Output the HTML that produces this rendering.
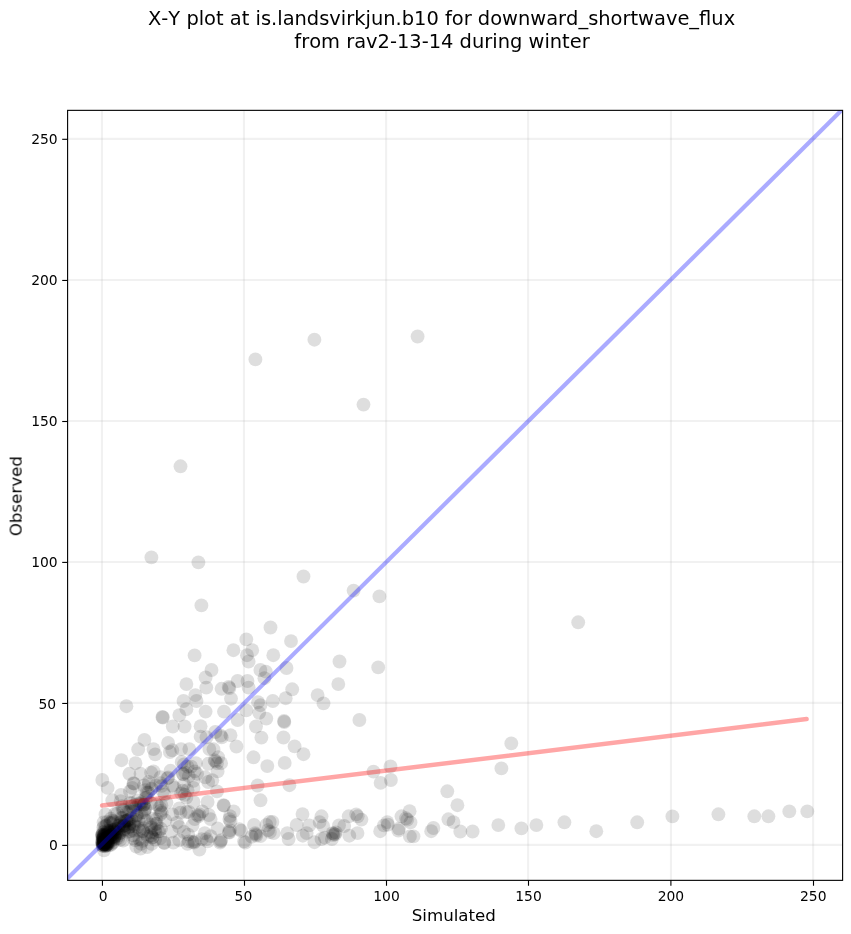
<!DOCTYPE html>
<html><head><meta charset="utf-8"><title>X-Y plot</title>
<style>
html,body{margin:0;padding:0;background:#fff;}
svg{display:block;}
text{font-family:"DejaVu Sans","Liberation Sans",sans-serif;fill:#000;font-kerning:none;}
.t{font-size:13.89px;}
.l{font-size:16.67px;}
.h{font-size:19.44px;}
</style></head><body>
<svg width="851" height="934" viewBox="0 0 851 934">
<rect width="851" height="934" fill="#fff"/>
<defs><clipPath id="c"><rect x="67.6" y="110.35" width="775.0" height="770.0"/></clipPath></defs>

<g stroke="#b0b0b0" stroke-opacity="0.18" stroke-width="2.08" clip-path="url(#c)">
<line x1="102.0" y1="110.35" x2="102.0" y2="880.35"/>
<line x1="67.6" y1="844.9" x2="842.6" y2="844.9"/>
<line x1="244.0" y1="110.35" x2="244.0" y2="880.35"/>
<line x1="67.6" y1="702.9" x2="842.6" y2="702.9"/>
<line x1="386.1" y1="110.35" x2="386.1" y2="880.35"/>
<line x1="67.6" y1="562.0" x2="842.6" y2="562.0"/>
<line x1="528.1" y1="110.35" x2="528.1" y2="880.35"/>
<line x1="67.6" y1="421.0" x2="842.6" y2="421.0"/>
<line x1="671.0" y1="110.35" x2="671.0" y2="880.35"/>
<line x1="67.6" y1="280.0" x2="842.6" y2="280.0"/>
<line x1="813.1" y1="110.35" x2="813.1" y2="880.35"/>
<line x1="67.6" y1="138.9" x2="842.6" y2="138.9"/>
</g>
<g fill="#000" fill-opacity="0.13" clip-path="url(#c)">
<circle cx="314.4" cy="339.7" r="6.94"/>
<circle cx="255.4" cy="359.4" r="6.94"/>
<circle cx="180.5" cy="466.3" r="6.94"/>
<circle cx="151.4" cy="557.4" r="6.94"/>
<circle cx="198.4" cy="562.4" r="6.94"/>
<circle cx="417.6" cy="336.5" r="6.94"/>
<circle cx="363.5" cy="404.6" r="6.94"/>
<circle cx="201.4" cy="605.4" r="6.94"/>
<circle cx="270.5" cy="627.5" r="6.94"/>
<circle cx="246.3" cy="639.4" r="6.94"/>
<circle cx="291.0" cy="641.1" r="6.94"/>
<circle cx="233.4" cy="650.2" r="6.94"/>
<circle cx="252.2" cy="650.2" r="6.94"/>
<circle cx="247.0" cy="655.2" r="6.94"/>
<circle cx="273.3" cy="655.2" r="6.94"/>
<circle cx="194.6" cy="655.4" r="6.94"/>
<circle cx="248.6" cy="661.5" r="6.94"/>
<circle cx="211.5" cy="670.0" r="6.94"/>
<circle cx="260.4" cy="670.0" r="6.94"/>
<circle cx="265.8" cy="671.6" r="6.94"/>
<circle cx="286.5" cy="668.0" r="6.94"/>
<circle cx="205.6" cy="677.5" r="6.94"/>
<circle cx="264.4" cy="678.2" r="6.94"/>
<circle cx="237.6" cy="681.0" r="6.94"/>
<circle cx="247.5" cy="681.0" r="6.94"/>
<circle cx="186.4" cy="684.1" r="6.94"/>
<circle cx="206.3" cy="687.6" r="6.94"/>
<circle cx="221.6" cy="688.8" r="6.94"/>
<circle cx="228.7" cy="686.9" r="6.94"/>
<circle cx="229.4" cy="688.1" r="6.94"/>
<circle cx="248.6" cy="687.6" r="6.94"/>
<circle cx="292.2" cy="689.3" r="6.94"/>
<circle cx="195.3" cy="695.1" r="6.94"/>
<circle cx="231.0" cy="698.7" r="6.94"/>
<circle cx="183.5" cy="701.0" r="6.94"/>
<circle cx="196.5" cy="701.0" r="6.94"/>
<circle cx="285.7" cy="698.2" r="6.94"/>
<circle cx="272.8" cy="701.0" r="6.94"/>
<circle cx="258.0" cy="702.2" r="6.94"/>
<circle cx="260.4" cy="705.2" r="6.94"/>
<circle cx="126.4" cy="706.2" r="6.94"/>
<circle cx="186.4" cy="709.2" r="6.94"/>
<circle cx="205.6" cy="711.6" r="6.94"/>
<circle cx="224.0" cy="711.6" r="6.94"/>
<circle cx="246.3" cy="710.4" r="6.94"/>
<circle cx="179.3" cy="715.1" r="6.94"/>
<circle cx="162.4" cy="717.0" r="6.94"/>
<circle cx="162.9" cy="717.5" r="6.94"/>
<circle cx="259.2" cy="712.8" r="6.94"/>
<circle cx="266.3" cy="718.6" r="6.94"/>
<circle cx="237.6" cy="720.0" r="6.94"/>
<circle cx="303.5" cy="576.5" r="6.94"/>
<circle cx="353.6" cy="590.6" r="6.94"/>
<circle cx="379.4" cy="596.4" r="6.94"/>
<circle cx="339.5" cy="661.5" r="6.94"/>
<circle cx="378.2" cy="667.4" r="6.94"/>
<circle cx="338.3" cy="684.1" r="6.94"/>
<circle cx="317.6" cy="695.1" r="6.94"/>
<circle cx="323.5" cy="703.4" r="6.94"/>
<circle cx="359.4" cy="720.0" r="6.94"/>
<circle cx="284.0" cy="721.0" r="6.94"/>
<circle cx="284.3" cy="722.0" r="6.94"/>
<circle cx="578.2" cy="622.3" r="6.94"/>
<circle cx="511.3" cy="743.4" r="6.94"/>
<circle cx="501.4" cy="768.4" r="6.94"/>
<circle cx="498.3" cy="825.1" r="6.94"/>
<circle cx="521.4" cy="828.4" r="6.94"/>
<circle cx="536.4" cy="825.1" r="6.94"/>
<circle cx="564.4" cy="822.3" r="6.94"/>
<circle cx="596.3" cy="831.2" r="6.94"/>
<circle cx="637.2" cy="822.3" r="6.94"/>
<circle cx="672.4" cy="816.4" r="6.94"/>
<circle cx="718.4" cy="814.3" r="6.94"/>
<circle cx="754.3" cy="816.3" r="6.94"/>
<circle cx="768.4" cy="816.3" r="6.94"/>
<circle cx="789.3" cy="811.4" r="6.94"/>
<circle cx="807.3" cy="811.4" r="6.94"/>
<circle cx="283.5" cy="737.5" r="6.94"/>
<circle cx="294.6" cy="746.4" r="6.94"/>
<circle cx="303.5" cy="754.2" r="6.94"/>
<circle cx="284.7" cy="762.9" r="6.94"/>
<circle cx="289.4" cy="785.2" r="6.94"/>
<circle cx="373.5" cy="771.6" r="6.94"/>
<circle cx="390.5" cy="766.4" r="6.94"/>
<circle cx="380.6" cy="782.9" r="6.94"/>
<circle cx="390.9" cy="780.0" r="6.94"/>
<circle cx="447.3" cy="791.3" r="6.94"/>
<circle cx="457.4" cy="805.2" r="6.94"/>
<circle cx="302.5" cy="814.1" r="6.94"/>
<circle cx="321.5" cy="816.3" r="6.94"/>
<circle cx="319.6" cy="822.1" r="6.94"/>
<circle cx="296.7" cy="825.0" r="6.94"/>
<circle cx="309.3" cy="825.4" r="6.94"/>
<circle cx="323.1" cy="825.8" r="6.94"/>
<circle cx="287.3" cy="833.1" r="6.94"/>
<circle cx="288.6" cy="839.0" r="6.94"/>
<circle cx="302.8" cy="835.7" r="6.94"/>
<circle cx="306.7" cy="833.1" r="6.94"/>
<circle cx="314.4" cy="842.2" r="6.94"/>
<circle cx="321.5" cy="839.0" r="6.94"/>
<circle cx="324.8" cy="837.7" r="6.94"/>
<circle cx="331.9" cy="839.0" r="6.94"/>
<circle cx="332.5" cy="833.1" r="6.94"/>
<circle cx="333.8" cy="833.8" r="6.94"/>
<circle cx="335.1" cy="834.4" r="6.94"/>
<circle cx="333.2" cy="835.1" r="6.94"/>
<circle cx="335.8" cy="832.5" r="6.94"/>
<circle cx="339.0" cy="825.4" r="6.94"/>
<circle cx="344.2" cy="826.0" r="6.94"/>
<circle cx="348.7" cy="816.3" r="6.94"/>
<circle cx="356.2" cy="814.4" r="6.94"/>
<circle cx="357.7" cy="816.3" r="6.94"/>
<circle cx="361.4" cy="819.6" r="6.94"/>
<circle cx="349.3" cy="835.7" r="6.94"/>
<circle cx="357.5" cy="833.1" r="6.94"/>
<circle cx="273.7" cy="833.1" r="6.94"/>
<circle cx="272.4" cy="822.0" r="6.94"/>
<circle cx="380.2" cy="831.2" r="6.94"/>
<circle cx="384.0" cy="825.4" r="6.94"/>
<circle cx="387.3" cy="822.1" r="6.94"/>
<circle cx="387.9" cy="824.7" r="6.94"/>
<circle cx="398.3" cy="830.5" r="6.94"/>
<circle cx="398.9" cy="828.6" r="6.94"/>
<circle cx="401.5" cy="816.3" r="6.94"/>
<circle cx="409.6" cy="811.2" r="6.94"/>
<circle cx="406.0" cy="818.3" r="6.94"/>
<circle cx="407.3" cy="819.6" r="6.94"/>
<circle cx="410.5" cy="822.4" r="6.94"/>
<circle cx="409.9" cy="836.4" r="6.94"/>
<circle cx="413.5" cy="836.4" r="6.94"/>
<circle cx="431.2" cy="831.2" r="6.94"/>
<circle cx="433.4" cy="828.0" r="6.94"/>
<circle cx="448.4" cy="819.3" r="6.94"/>
<circle cx="453.5" cy="822.1" r="6.94"/>
<circle cx="460.3" cy="831.5" r="6.94"/>
<circle cx="472.6" cy="831.5" r="6.94"/>
<circle cx="200.6" cy="726.2" r="6.94"/>
<circle cx="256.0" cy="726.5" r="6.94"/>
<circle cx="200.6" cy="736.7" r="6.94"/>
<circle cx="206.5" cy="737.3" r="6.94"/>
<circle cx="215.3" cy="732.0" r="6.94"/>
<circle cx="220.8" cy="735.6" r="6.94"/>
<circle cx="221.7" cy="737.3" r="6.94"/>
<circle cx="230.5" cy="735.2" r="6.94"/>
<circle cx="261.4" cy="737.6" r="6.94"/>
<circle cx="236.4" cy="746.5" r="6.94"/>
<circle cx="189.3" cy="749.1" r="6.94"/>
<circle cx="209.4" cy="749.1" r="6.94"/>
<circle cx="213.5" cy="749.3" r="6.94"/>
<circle cx="253.5" cy="757.3" r="6.94"/>
<circle cx="218.2" cy="757.3" r="6.94"/>
<circle cx="215.3" cy="761.4" r="6.94"/>
<circle cx="217.0" cy="763.2" r="6.94"/>
<circle cx="221.1" cy="763.2" r="6.94"/>
<circle cx="214.7" cy="760.2" r="6.94"/>
<circle cx="208.2" cy="763.8" r="6.94"/>
<circle cx="267.3" cy="766.1" r="6.94"/>
<circle cx="217.6" cy="771.4" r="6.94"/>
<circle cx="195.9" cy="763.2" r="6.94"/>
<circle cx="191.2" cy="766.7" r="6.94"/>
<circle cx="194.7" cy="771.4" r="6.94"/>
<circle cx="197.1" cy="773.8" r="6.94"/>
<circle cx="205.3" cy="777.3" r="6.94"/>
<circle cx="212.3" cy="780.2" r="6.94"/>
<circle cx="208.2" cy="782.0" r="6.94"/>
<circle cx="193.5" cy="780.8" r="6.94"/>
<circle cx="257.6" cy="785.5" r="6.94"/>
<circle cx="217.0" cy="791.4" r="6.94"/>
<circle cx="193.5" cy="787.9" r="6.94"/>
<circle cx="260.5" cy="800.3" r="6.94"/>
<circle cx="188.8" cy="776.1" r="6.94"/>
<circle cx="223.5" cy="805.2" r="6.94"/>
<circle cx="223.9" cy="805.6" r="6.94"/>
<circle cx="207.6" cy="802.0" r="6.94"/>
<circle cx="193.5" cy="802.0" r="6.94"/>
<circle cx="233.7" cy="811.4" r="6.94"/>
<circle cx="230.0" cy="816.1" r="6.94"/>
<circle cx="229.4" cy="819.1" r="6.94"/>
<circle cx="230.5" cy="821.4" r="6.94"/>
<circle cx="202.3" cy="811.4" r="6.94"/>
<circle cx="199.4" cy="814.4" r="6.94"/>
<circle cx="198.8" cy="816.1" r="6.94"/>
<circle cx="208.8" cy="815.0" r="6.94"/>
<circle cx="210.6" cy="819.1" r="6.94"/>
<circle cx="194.7" cy="819.1" r="6.94"/>
<circle cx="188.8" cy="812.0" r="6.94"/>
<circle cx="217.6" cy="828.5" r="6.94"/>
<circle cx="254.0" cy="825.0" r="6.94"/>
<circle cx="266.4" cy="825.0" r="6.94"/>
<circle cx="269.7" cy="822.0" r="6.94"/>
<circle cx="230.0" cy="830.2" r="6.94"/>
<circle cx="229.4" cy="832.6" r="6.94"/>
<circle cx="228.8" cy="832.0" r="6.94"/>
<circle cx="239.4" cy="829.1" r="6.94"/>
<circle cx="241.1" cy="830.8" r="6.94"/>
<circle cx="204.7" cy="833.2" r="6.94"/>
<circle cx="210.6" cy="836.1" r="6.94"/>
<circle cx="206.5" cy="839.1" r="6.94"/>
<circle cx="207.6" cy="841.4" r="6.94"/>
<circle cx="220.6" cy="841.4" r="6.94"/>
<circle cx="221.1" cy="840.2" r="6.94"/>
<circle cx="220.0" cy="842.6" r="6.94"/>
<circle cx="245.2" cy="842.6" r="6.94"/>
<circle cx="244.1" cy="841.4" r="6.94"/>
<circle cx="255.2" cy="833.2" r="6.94"/>
<circle cx="256.4" cy="835.5" r="6.94"/>
<circle cx="255.8" cy="834.4" r="6.94"/>
<circle cx="260.5" cy="836.1" r="6.94"/>
<circle cx="251.7" cy="836.7" r="6.94"/>
<circle cx="268.1" cy="830.2" r="6.94"/>
<circle cx="269.9" cy="832.0" r="6.94"/>
<circle cx="194.7" cy="841.4" r="6.94"/>
<circle cx="194.1" cy="842.6" r="6.94"/>
<circle cx="192.4" cy="842.0" r="6.94"/>
<circle cx="199.4" cy="849.6" r="6.94"/>
<circle cx="188.8" cy="841.4" r="6.94"/>
<circle cx="201.8" cy="839.1" r="6.94"/>
<circle cx="172.8" cy="726.5" r="6.94"/>
<circle cx="184.6" cy="726.5" r="6.94"/>
<circle cx="144.4" cy="739.9" r="6.94"/>
<circle cx="138.2" cy="749.3" r="6.94"/>
<circle cx="153.5" cy="749.1" r="6.94"/>
<circle cx="155.2" cy="754.4" r="6.94"/>
<circle cx="168.1" cy="743.0" r="6.94"/>
<circle cx="169.9" cy="752.0" r="6.94"/>
<circle cx="172.3" cy="750.3" r="6.94"/>
<circle cx="181.1" cy="749.1" r="6.94"/>
<circle cx="121.4" cy="760.2" r="6.94"/>
<circle cx="135.5" cy="763.2" r="6.94"/>
<circle cx="129.4" cy="773.8" r="6.94"/>
<circle cx="140.5" cy="773.8" r="6.94"/>
<circle cx="151.1" cy="772.6" r="6.94"/>
<circle cx="153.5" cy="771.4" r="6.94"/>
<circle cx="160.5" cy="777.3" r="6.94"/>
<circle cx="170.5" cy="770.8" r="6.94"/>
<circle cx="181.7" cy="762.0" r="6.94"/>
<circle cx="184.0" cy="764.4" r="6.94"/>
<circle cx="182.8" cy="773.8" r="6.94"/>
<circle cx="183.3" cy="774.3" r="6.94"/>
<circle cx="185.2" cy="772.6" r="6.94"/>
<circle cx="187.5" cy="766.7" r="6.94"/>
<circle cx="102.3" cy="780.0" r="6.94"/>
<circle cx="107.6" cy="787.9" r="6.94"/>
<circle cx="133.5" cy="783.2" r="6.94"/>
<circle cx="133.9" cy="783.6" r="6.94"/>
<circle cx="132.3" cy="787.9" r="6.94"/>
<circle cx="144.1" cy="785.5" r="6.94"/>
<circle cx="148.8" cy="784.3" r="6.94"/>
<circle cx="155.8" cy="785.5" r="6.94"/>
<circle cx="160.5" cy="783.2" r="6.94"/>
<circle cx="121.1" cy="794.9" r="6.94"/>
<circle cx="172.3" cy="785.5" r="6.94"/>
<circle cx="174.6" cy="787.9" r="6.94"/>
<circle cx="184.0" cy="784.3" r="6.94"/>
<circle cx="187.5" cy="790.2" r="6.94"/>
<circle cx="145.2" cy="790.2" r="6.94"/>
<circle cx="162.9" cy="791.4" r="6.94"/>
<circle cx="130.0" cy="791.4" r="6.94"/>
<circle cx="112.3" cy="800.3" r="6.94"/>
<circle cx="164.0" cy="842.6" r="6.94"/>
<circle cx="164.4" cy="843.0" r="6.94"/>
<circle cx="140.5" cy="848.5" r="6.94"/>
<circle cx="141.1" cy="843.8" r="6.94"/>
<circle cx="104.0" cy="850.3" r="6.94"/>
<circle cx="151.1" cy="835.5" r="6.94"/>
<circle cx="179.3" cy="840.2" r="6.94"/>
<circle cx="173.4" cy="842.6" r="6.94"/>
<circle cx="184.0" cy="832.0" r="6.94"/>
<circle cx="187.5" cy="843.8" r="6.94"/>
<circle cx="165.2" cy="820.3" r="6.94"/>
<circle cx="160.5" cy="810.9" r="6.94"/>
<circle cx="172.3" cy="814.4" r="6.94"/>
<circle cx="179.3" cy="808.5" r="6.94"/>
<circle cx="166.4" cy="802.6" r="6.94"/>
<circle cx="177.0" cy="822.6" r="6.94"/>
<circle cx="155.8" cy="823.8" r="6.94"/>
<circle cx="186.4" cy="812.0" r="6.94"/>
<circle cx="179.2" cy="826.9" r="6.94"/>
<circle cx="171.5" cy="831.5" r="6.94"/>
<circle cx="188.2" cy="834.6" r="6.94"/>
<circle cx="197.3" cy="815.2" r="6.94"/>
<circle cx="180.5" cy="812.7" r="6.94"/>
<circle cx="192.5" cy="825.5" r="6.94"/>
<circle cx="104.4" cy="836.7" r="6.94"/>
<circle cx="104.4" cy="835.0" r="6.94"/>
<circle cx="102.4" cy="845.6" r="6.94"/>
<circle cx="106.6" cy="840.5" r="6.94"/>
<circle cx="104.8" cy="835.5" r="6.94"/>
<circle cx="103.1" cy="844.6" r="6.94"/>
<circle cx="103.6" cy="839.6" r="6.94"/>
<circle cx="102.4" cy="839.3" r="6.94"/>
<circle cx="103.5" cy="842.7" r="6.94"/>
<circle cx="102.2" cy="835.3" r="6.94"/>
<circle cx="102.2" cy="836.7" r="6.94"/>
<circle cx="103.3" cy="844.3" r="6.94"/>
<circle cx="102.9" cy="845.9" r="6.94"/>
<circle cx="102.8" cy="835.8" r="6.94"/>
<circle cx="102.4" cy="834.5" r="6.94"/>
<circle cx="103.4" cy="835.8" r="6.94"/>
<circle cx="103.3" cy="839.7" r="6.94"/>
<circle cx="107.0" cy="838.0" r="6.94"/>
<circle cx="103.4" cy="837.9" r="6.94"/>
<circle cx="106.6" cy="834.7" r="6.94"/>
<circle cx="103.4" cy="841.7" r="6.94"/>
<circle cx="103.1" cy="844.0" r="6.94"/>
<circle cx="102.5" cy="842.4" r="6.94"/>
<circle cx="102.7" cy="838.9" r="6.94"/>
<circle cx="105.1" cy="842.0" r="6.94"/>
<circle cx="102.2" cy="842.3" r="6.94"/>
<circle cx="103.1" cy="842.2" r="6.94"/>
<circle cx="104.2" cy="840.3" r="6.94"/>
<circle cx="102.3" cy="834.6" r="6.94"/>
<circle cx="102.8" cy="845.6" r="6.94"/>
<circle cx="102.1" cy="842.1" r="6.94"/>
<circle cx="108.1" cy="831.3" r="6.94"/>
<circle cx="104.8" cy="842.2" r="6.94"/>
<circle cx="105.2" cy="841.9" r="6.94"/>
<circle cx="105.4" cy="840.7" r="6.94"/>
<circle cx="109.2" cy="832.3" r="6.94"/>
<circle cx="108.8" cy="839.2" r="6.94"/>
<circle cx="105.3" cy="839.1" r="6.94"/>
<circle cx="107.4" cy="841.4" r="6.94"/>
<circle cx="102.9" cy="832.5" r="6.94"/>
<circle cx="106.1" cy="835.7" r="6.94"/>
<circle cx="115.0" cy="813.9" r="6.94"/>
<circle cx="107.3" cy="821.9" r="6.94"/>
<circle cx="105.5" cy="814.5" r="6.94"/>
<circle cx="110.4" cy="823.5" r="6.94"/>
<circle cx="115.2" cy="829.1" r="6.94"/>
<circle cx="103.8" cy="834.7" r="6.94"/>
<circle cx="106.0" cy="833.0" r="6.94"/>
<circle cx="110.7" cy="832.7" r="6.94"/>
<circle cx="146.6" cy="820.9" r="6.94"/>
<circle cx="136.9" cy="815.6" r="6.94"/>
<circle cx="156.1" cy="819.5" r="6.94"/>
<circle cx="142.9" cy="830.8" r="6.94"/>
<circle cx="159.1" cy="831.4" r="6.94"/>
<circle cx="145.3" cy="808.7" r="6.94"/>
<circle cx="133.4" cy="811.7" r="6.94"/>
<circle cx="160.2" cy="814.5" r="6.94"/>
<circle cx="154.9" cy="829.3" r="6.94"/>
<circle cx="143.3" cy="828.1" r="6.94"/>
<circle cx="156.7" cy="824.0" r="6.94"/>
<circle cx="143.9" cy="804.1" r="6.94"/>
<circle cx="157.0" cy="804.8" r="6.94"/>
<circle cx="143.9" cy="818.6" r="6.94"/>
<circle cx="153.0" cy="818.8" r="6.94"/>
<circle cx="138.6" cy="820.9" r="6.94"/>
<circle cx="133.9" cy="821.7" r="6.94"/>
<circle cx="161.4" cy="805.2" r="6.94"/>
<circle cx="106.0" cy="843.9" r="6.94"/>
<circle cx="103.6" cy="822.5" r="6.94"/>
<circle cx="137.7" cy="800.4" r="6.94"/>
<circle cx="106.5" cy="825.2" r="6.94"/>
<circle cx="111.9" cy="837.1" r="6.94"/>
<circle cx="103.3" cy="827.6" r="6.94"/>
<circle cx="123.7" cy="810.2" r="6.94"/>
<circle cx="109.4" cy="836.8" r="6.94"/>
<circle cx="113.1" cy="822.6" r="6.94"/>
<circle cx="105.9" cy="825.9" r="6.94"/>
<circle cx="132.2" cy="803.1" r="6.94"/>
<circle cx="148.8" cy="782.0" r="6.94"/>
<circle cx="128.3" cy="831.9" r="6.94"/>
<circle cx="110.7" cy="818.8" r="6.94"/>
<circle cx="132.0" cy="806.5" r="6.94"/>
<circle cx="117.3" cy="813.5" r="6.94"/>
<circle cx="115.7" cy="829.2" r="6.94"/>
<circle cx="150.2" cy="824.4" r="6.94"/>
<circle cx="108.4" cy="841.9" r="6.94"/>
<circle cx="130.3" cy="810.9" r="6.94"/>
<circle cx="103.4" cy="844.1" r="6.94"/>
<circle cx="107.2" cy="842.4" r="6.94"/>
<circle cx="111.8" cy="843.9" r="6.94"/>
<circle cx="113.7" cy="830.9" r="6.94"/>
<circle cx="126.4" cy="821.3" r="6.94"/>
<circle cx="116.3" cy="831.2" r="6.94"/>
<circle cx="119.1" cy="833.6" r="6.94"/>
<circle cx="107.2" cy="844.7" r="6.94"/>
<circle cx="161.7" cy="812.6" r="6.94"/>
<circle cx="145.4" cy="798.0" r="6.94"/>
<circle cx="129.7" cy="823.9" r="6.94"/>
<circle cx="127.7" cy="820.2" r="6.94"/>
<circle cx="105.3" cy="842.1" r="6.94"/>
<circle cx="139.5" cy="830.9" r="6.94"/>
<circle cx="123.1" cy="840.6" r="6.94"/>
<circle cx="113.1" cy="842.2" r="6.94"/>
<circle cx="167.4" cy="778.4" r="6.94"/>
<circle cx="104.6" cy="831.4" r="6.94"/>
<circle cx="112.4" cy="834.6" r="6.94"/>
<circle cx="123.7" cy="830.1" r="6.94"/>
<circle cx="129.0" cy="819.6" r="6.94"/>
<circle cx="111.1" cy="835.3" r="6.94"/>
<circle cx="123.6" cy="825.6" r="6.94"/>
<circle cx="144.0" cy="804.9" r="6.94"/>
<circle cx="108.4" cy="832.6" r="6.94"/>
<circle cx="112.4" cy="820.7" r="6.94"/>
<circle cx="113.8" cy="837.5" r="6.94"/>
<circle cx="127.5" cy="829.7" r="6.94"/>
<circle cx="113.0" cy="831.8" r="6.94"/>
<circle cx="110.6" cy="837.9" r="6.94"/>
<circle cx="168.3" cy="777.5" r="6.94"/>
<circle cx="143.3" cy="805.2" r="6.94"/>
<circle cx="121.1" cy="817.9" r="6.94"/>
<circle cx="181.2" cy="793.4" r="6.94"/>
<circle cx="114.0" cy="830.2" r="6.94"/>
<circle cx="159.8" cy="807.3" r="6.94"/>
<circle cx="146.9" cy="792.5" r="6.94"/>
<circle cx="141.3" cy="802.5" r="6.94"/>
<circle cx="110.4" cy="845.0" r="6.94"/>
<circle cx="114.7" cy="836.1" r="6.94"/>
<circle cx="122.4" cy="817.9" r="6.94"/>
<circle cx="146.7" cy="797.5" r="6.94"/>
<circle cx="135.7" cy="819.9" r="6.94"/>
<circle cx="160.4" cy="838.1" r="6.94"/>
<circle cx="107.7" cy="842.9" r="6.94"/>
<circle cx="182.6" cy="790.8" r="6.94"/>
<circle cx="103.3" cy="836.8" r="6.94"/>
<circle cx="104.2" cy="844.7" r="6.94"/>
<circle cx="104.5" cy="844.3" r="6.94"/>
<circle cx="134.9" cy="804.9" r="6.94"/>
<circle cx="108.0" cy="830.7" r="6.94"/>
<circle cx="119.0" cy="825.7" r="6.94"/>
<circle cx="136.6" cy="815.2" r="6.94"/>
<circle cx="137.9" cy="827.1" r="6.94"/>
<circle cx="133.8" cy="824.5" r="6.94"/>
<circle cx="123.8" cy="823.6" r="6.94"/>
<circle cx="141.5" cy="812.6" r="6.94"/>
<circle cx="106.7" cy="844.5" r="6.94"/>
<circle cx="164.5" cy="794.6" r="6.94"/>
<circle cx="104.1" cy="826.1" r="6.94"/>
<circle cx="104.5" cy="844.5" r="6.94"/>
<circle cx="151.0" cy="832.3" r="6.94"/>
<circle cx="122.0" cy="806.1" r="6.94"/>
<circle cx="103.8" cy="838.6" r="6.94"/>
<circle cx="109.9" cy="831.1" r="6.94"/>
<circle cx="120.1" cy="839.9" r="6.94"/>
<circle cx="122.6" cy="809.4" r="6.94"/>
<circle cx="110.2" cy="822.7" r="6.94"/>
<circle cx="124.3" cy="821.4" r="6.94"/>
<circle cx="119.4" cy="835.2" r="6.94"/>
<circle cx="102.4" cy="843.2" r="6.94"/>
<circle cx="113.7" cy="821.4" r="6.94"/>
<circle cx="161.7" cy="785.9" r="6.94"/>
<circle cx="120.0" cy="832.8" r="6.94"/>
<circle cx="108.1" cy="841.7" r="6.94"/>
<circle cx="112.9" cy="829.6" r="6.94"/>
<circle cx="113.8" cy="839.2" r="6.94"/>
<circle cx="112.4" cy="837.2" r="6.94"/>
<circle cx="114.4" cy="832.5" r="6.94"/>
<circle cx="120.7" cy="801.1" r="6.94"/>
<circle cx="103.2" cy="839.4" r="6.94"/>
<circle cx="111.0" cy="835.4" r="6.94"/>
<circle cx="110.6" cy="841.4" r="6.94"/>
<circle cx="135.6" cy="807.6" r="6.94"/>
<circle cx="128.8" cy="811.7" r="6.94"/>
<circle cx="131.1" cy="818.1" r="6.94"/>
<circle cx="103.7" cy="843.3" r="6.94"/>
<circle cx="118.4" cy="838.1" r="6.94"/>
<circle cx="104.0" cy="844.0" r="6.94"/>
<circle cx="105.7" cy="845.9" r="6.94"/>
<circle cx="117.8" cy="832.6" r="6.94"/>
<circle cx="105.5" cy="845.6" r="6.94"/>
<circle cx="122.0" cy="826.7" r="6.94"/>
<circle cx="123.9" cy="826.0" r="6.94"/>
<circle cx="120.8" cy="821.7" r="6.94"/>
<circle cx="126.5" cy="820.4" r="6.94"/>
<circle cx="124.3" cy="825.5" r="6.94"/>
<circle cx="133.4" cy="830.7" r="6.94"/>
<circle cx="186.3" cy="797.7" r="6.94"/>
<circle cx="117.8" cy="828.6" r="6.94"/>
<circle cx="114.6" cy="837.4" r="6.94"/>
<circle cx="141.0" cy="804.3" r="6.94"/>
<circle cx="106.0" cy="844.4" r="6.94"/>
<circle cx="106.7" cy="844.9" r="6.94"/>
<circle cx="104.1" cy="844.4" r="6.94"/>
<circle cx="108.1" cy="845.5" r="6.94"/>
<circle cx="126.8" cy="812.6" r="6.94"/>
<circle cx="129.6" cy="826.5" r="6.94"/>
<circle cx="130.1" cy="803.0" r="6.94"/>
<circle cx="108.4" cy="834.6" r="6.94"/>
<circle cx="105.1" cy="844.4" r="6.94"/>
<circle cx="109.9" cy="836.4" r="6.94"/>
<circle cx="144.8" cy="810.1" r="6.94"/>
<circle cx="104.8" cy="846.2" r="6.94"/>
<circle cx="151.5" cy="788.7" r="6.94"/>
<circle cx="134.5" cy="826.4" r="6.94"/>
<circle cx="115.0" cy="836.3" r="6.94"/>
<circle cx="125.5" cy="821.1" r="6.94"/>
<circle cx="125.6" cy="827.8" r="6.94"/>
<circle cx="151.2" cy="827.5" r="6.94"/>
<circle cx="107.9" cy="844.0" r="6.94"/>
<circle cx="184.7" cy="794.8" r="6.94"/>
<circle cx="139.2" cy="803.6" r="6.94"/>
<circle cx="120.6" cy="822.6" r="6.94"/>
<circle cx="150.7" cy="803.0" r="6.94"/>
<circle cx="118.4" cy="826.0" r="6.94"/>
<circle cx="116.2" cy="832.3" r="6.94"/>
<circle cx="129.3" cy="827.7" r="6.94"/>
<circle cx="144.3" cy="812.4" r="6.94"/>
<circle cx="148.4" cy="792.6" r="6.94"/>
<circle cx="151.6" cy="843.9" r="6.94"/>
<circle cx="135.4" cy="840.3" r="6.94"/>
<circle cx="147.3" cy="847.0" r="6.94"/>
<circle cx="136.3" cy="846.5" r="6.94"/>
<circle cx="155.0" cy="839.7" r="6.94"/>
<circle cx="124.2" cy="829.2" r="6.94"/>
<circle cx="130.1" cy="831.4" r="6.94"/>
<circle cx="155.4" cy="832.5" r="6.94"/>
<circle cx="152.4" cy="837.3" r="6.94"/>
<circle cx="115.4" cy="834.7" r="6.94"/>
<circle cx="142.4" cy="840.9" r="6.94"/>
<circle cx="133.2" cy="838.4" r="6.94"/>
<circle cx="116.2" cy="838.5" r="6.94"/>
<circle cx="132.9" cy="835.3" r="6.94"/>
<circle cx="147.9" cy="836.8" r="6.94"/>
<circle cx="161.0" cy="828.8" r="6.94"/>
<circle cx="158.2" cy="831.2" r="6.94"/>
<circle cx="146.3" cy="834.2" r="6.94"/>
<circle cx="152.4" cy="837.5" r="6.94"/>
<circle cx="142.7" cy="831.4" r="6.94"/>
<circle cx="139.4" cy="839.0" r="6.94"/>
</g>
<g clip-path="url(#c)" fill="none" stroke-width="4.17">
<line x1="57.599999999999994" y1="888.22" x2="852.6" y2="99.28" stroke="#0000ff" stroke-opacity="0.33"/>
<line x1="102.1" y1="805.5" x2="806.6" y2="719.0" stroke="#ff0000" stroke-opacity="0.35" stroke-width="4.5" stroke-linecap="round"/>
</g>
<rect x="67.6" y="110.35" width="775.0" height="770.0" fill="none" stroke="#000" stroke-width="1.11"/>
<g stroke="#000" stroke-width="1.11">
<line x1="102.45" y1="880.35" x2="102.45" y2="885.75"/>
<line x1="67.6" y1="845.4" x2="62.20" y2="845.4"/>
<line x1="244.5" y1="880.35" x2="244.5" y2="885.75"/>
<line x1="67.6" y1="703.45" x2="62.20" y2="703.45"/>
<line x1="386.5" y1="880.35" x2="386.5" y2="885.75"/>
<line x1="67.6" y1="562.4" x2="62.20" y2="562.4"/>
<line x1="528.5" y1="880.35" x2="528.5" y2="885.75"/>
<line x1="67.6" y1="421.5" x2="62.20" y2="421.5"/>
<line x1="670.9" y1="880.35" x2="670.9" y2="885.75"/>
<line x1="67.6" y1="280.45" x2="62.20" y2="280.45"/>
<line x1="813.5" y1="880.35" x2="813.5" y2="885.75"/>
<line x1="67.6" y1="139.3" x2="62.20" y2="139.3"/>
</g>
<g opacity="0.999">
<text class="t" x="103.25" y="900.75" text-anchor="middle">0</text>
<text class="t" x="57.90" y="850.00" text-anchor="end">0</text>
<text class="t" x="243.40" y="900.75" text-anchor="middle">50</text>
<text class="t" x="56.20" y="708.85" text-anchor="end">50</text>
<text class="t" x="386.50" y="900.75" text-anchor="middle">100</text>
<text class="t" x="57.70" y="567.00" text-anchor="end">100</text>
<text class="t" x="528.50" y="900.75" text-anchor="middle">150</text>
<text class="t" x="57.70" y="426.10" text-anchor="end">150</text>
<text class="t" x="670.90" y="900.75" text-anchor="middle">200</text>
<text class="t" x="57.70" y="285.05" text-anchor="end">200</text>
<text class="t" x="813.30" y="900.75" text-anchor="middle">250</text>
<text class="t" x="57.70" y="143.90" text-anchor="end">250</text>
<text class="l" x="453.85" y="921" text-anchor="middle">Simulated</text>
<text class="l" transform="translate(21.6,496.2) rotate(-90)" text-anchor="middle">Observed</text>
<text class="h" x="441.6" y="25" text-anchor="middle">X-Y plot at is.landsvirkjun.b10 for downward_shortwave_flux</text>
<text class="h" x="442" y="47.8" text-anchor="middle">from rav2-13-14 during winter</text>
</g>
</svg></body></html>
